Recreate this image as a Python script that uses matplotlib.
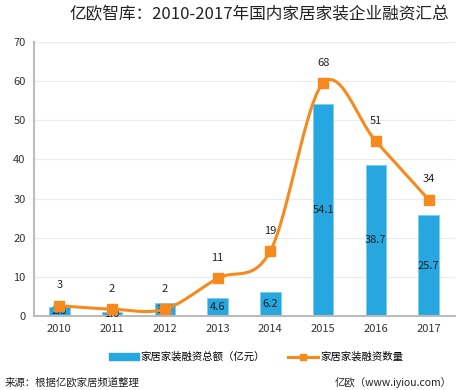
import matplotlib
matplotlib.use("Agg")
import matplotlib.pyplot as plt
import numpy as np
from matplotlib.lines import Line2D
from matplotlib.patches import Patch

plt.rcParams['font.family'] = ['Noto Sans CJK SC', 'DejaVu Sans']

years = ['2010', '2011', '2012', '2013', '2014', '2015', '2016', '2017']
amount = [2.3, 1.0, 3.3, 4.6, 6.2, 54.1, 38.7, 25.7]
count = [3, 2, 2, 11, 19, 68, 51, 34]

BLUE = '#27A7E0'
ORANGE = '#F78A1E'

fig = plt.figure(figsize=(4.59, 3.90), dpi=100)
ax = fig.add_axes([34/459, 1-316/390, (455-34)/459, (316-42)/390])
ax2 = ax.twinx()

x = np.arange(len(years))
ax.bar(x, amount, width=0.39, color=BLUE, edgecolor='#7FCBEF', linewidth=0.6, zorder=2)
for xi, v in zip(x, amount):
    ax.text(xi, v/2, f'{v:.1f}', ha='center', va='center', fontsize=8, color='#222222', zorder=5)

ax.set_xlim(-0.48, 7.5)
ax.set_ylim(0, 70)
ax.set_yticks(range(0, 71, 10))
ax.grid(axis='y', color='#EBEBEB', linewidth=0.8, zorder=0)
ax.set_axisbelow(True)
ax.set_xticks(x)
ax.set_xticklabels(years)
ax.tick_params(axis='both', length=0, labelsize=8, colors='#333333', pad=6)
for s in ['top', 'right']:
    ax.spines[s].set_visible(False)
ax.spines['left'].set_color('#BBBBBB')
ax.spines['left'].set_linewidth(1.5)
ax.spines['bottom'].set_color('#BBBBBB')
ax.spines['bottom'].set_linewidth(1.5)

# smooth (Catmull-Rom) curve through the count points, drawn on secondary axis
ax2.set_ylim(0, 80)
ax2.axis('off')
px = np.array(x, dtype=float)
py = np.array(count, dtype=float)
P = np.column_stack([px, py])
Pext = np.vstack([P[0] - (P[1]-P[0]), P, P[-1] + (P[-1]-P[-2])])
curve = []
for i in range(1, len(Pext)-2):
    p0, p1, p2, p3 = Pext[i-1], Pext[i], Pext[i+1], Pext[i+2]
    t = np.linspace(0, 1, 30)[:, None]
    seg = 0.5*((2*p1) + (-p0+p2)*t + (2*p0-5*p1+4*p2-p3)*t**2 + (-p0+3*p1-3*p2+p3)*t**3)
    curve.append(seg)
curve = np.vstack(curve)
ax2.plot(curve[:, 0], curve[:, 1], color=ORANGE, linewidth=2.2, zorder=3, solid_capstyle='round')
ax2.plot(px, py, linestyle='none', marker='s', markersize=7, color=ORANGE, zorder=4)
for xi, v in zip(px, py):
    ax2.text(xi, v + 4.5, f'{int(v)}', ha='center', va='bottom', fontsize=8, color='#222222')

fig.text(259/459, 0.963, '亿欧智库：2010-2017年国内家居家装企业融资汇总', ha='center', va='center',
         fontsize=12, color='#222222')

handles = [Patch(facecolor=BLUE, edgecolor=BLUE),
           Line2D([0], [0], color=ORANGE, linewidth=2.2, marker='s', markersize=4)]
labels = ['家居家装融资总额（亿元）', '家居家装融资数量']
fig.legend(handles, labels, loc='center', bbox_to_anchor=(256/459, 1-357/390), ncol=2, frameon=False,
           fontsize=7.5, handlelength=2.9, handleheight=0.6, columnspacing=2.2, handletextpad=0.15)

fig.text(5/459, 1-383/390, '来源：根据亿欧家居频道整理', ha='left', va='center', fontsize=7.5, color='#222222')
fig.text(452/459, 1-383/390, '亿欧（www.iyiou.com）', ha='right', va='center', fontsize=7.5, color='#222222')

fig.savefig('out.png', dpi=100)
